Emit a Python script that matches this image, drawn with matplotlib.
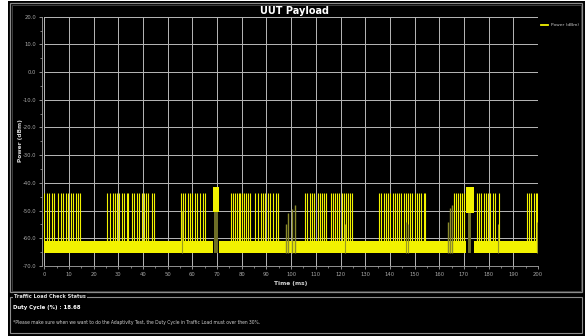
import matplotlib
matplotlib.use("Agg")
from matplotlib import pyplot as plt
from matplotlib.patches import Rectangle
from matplotlib.lines import Line2D

# burst spikes (ms) rising from the noise floor
spike_ms = [0.0, 1.0, 1.9, 3.0, 4.0,
            5.7, 6.6, 7.7, 8.7, 9.7, 10.7, 11.7, 12.8, 13.8, 14.4,
            25.5, 26.6, 27.7, 28.6, 29.6, 30.4, 31.3, 32.3, 33.4, 34.0,
            35.6, 36.4, 37.4, 38.5, 39.4, 40.4, 41.4, 42.1, 43.5, 44.5,
            55.3, 56.3, 57.1, 58.1, 59.0, 60.0, 61.0, 62.0, 63.1, 64.1, 64.9,
            75.5, 76.3, 77.1, 77.9, 78.7, 79.3, 80.1, 80.9, 81.7, 82.7, 83.5,
            85.5, 86.6, 87.7, 88.6, 89.5, 90.6, 91.6, 92.6, 93.7, 94.5,
            105.8, 106.6, 107.6, 108.5, 109.3, 110.9, 111.6, 112.5, 113.3, 114.0,
            116.0, 116.8, 117.7, 118.6, 119.4, 120.4, 121.3, 122.1, 123.1, 124.0, 124.8,
            135.6, 136.6, 137.5, 138.4, 139.3, 140.2, 141.1, 142.0, 143.0, 143.8, 144.7,
            145.6, 146.4, 147.4, 148.3, 149.1, 150.1, 151.0, 151.8, 152.8, 153.7, 154.4,
            165.9, 166.7, 167.6, 168.6, 169.4, 169.9,
            175.3, 176.1, 177.1, 178.0, 178.8, 179.8, 180.7, 181.8, 182.7, 184.2,
            195.5, 196.3, 197.3, 198.3, 199.1, 199.6]
burst_top_dbm = -43.8

# rising ramps before the two hot spots
ramp_ms = [97.9, 98.8, 100.2, 101.5, 163.6, 164.3, 165.0]
ramp_top = [-55.0, -51.0, -49.6, -47.8, -54.0, -49.0, -48.0]

# weaker partial spikes inside bursts
dim_ms = [55.8, 121.8, 146.4, 147.2, 183.8, 199.4]
dim_top = [-50.0, -55.0, -54.0, -55.0, -55.0, -54.0]

# hot spots: bright block on top of a dim column
block_start = [68.4, 171.0]
block_end = [70.6, 174.0]
block_top = [-41.5, -41.5]
block_bottom = [-50.6, -51.0]
column_start = [68.9, 171.6]
column_end = [70.3, 173.0]

# noise floor band
floor_start = [0.0, 70.8, 174.2]
floor_end = [68.4, 171.0, 200.0]
floor_low = -65.2
floor_high = -61.0

x_ticks = list(range(0, 201, 10))
y_ticks = [20, 10, 0, -10, -20, -30, -40, -50, -60, -70]

duty_cycle = 18.68

W, H = 588, 336
YELLOW = "#f2f200"
OLIVE = "#6e6e26"
GRID = "#b8b8b8"
TICK = "#a8a8a8"

fig = plt.figure(figsize=(W / 100, H / 100), dpi=100, facecolor="white")

# black panel and frames
fig.patches.append(Rectangle((8 / W, 0), 577 / W, 1 - 1 / H, transform=fig.transFigure,
                             facecolor="black", edgecolor="none", zorder=-10))
fig.patches.append(Rectangle((10 / W, 1 - 292 / H), 572 / W, 289 / H, transform=fig.transFigure,
                             facecolor="none", edgecolor="#8c8c8c", lw=0.9))
fig.patches.append(Rectangle((11.5 / W, 1 - 290.5 / H), 569 / W, 286 / H, transform=fig.transFigure,
                             facecolor="none", edgecolor="#4a4a4a", lw=0.6))
fig.patches.append(Rectangle((10 / W, 1 - 333 / H), 572 / W, 36 / H, transform=fig.transFigure,
                             facecolor="none", edgecolor="#8c8c8c", lw=0.8))

ax = fig.add_axes([44.3 / W, 1 - 266 / H, (538 - 44.3) / W, (266 - 16.7) / H])
ax.set_facecolor("black")

for s, e in zip(floor_start, floor_end):
    ax.fill_between([s, e], floor_low, floor_high, color=YELLOW, lw=0, zorder=3)

ax.vlines(spike_ms, floor_high, burst_top_dbm, color=YELLOW, lw=0.8, zorder=4)
ax.vlines(dim_ms, floor_low, dim_top, color="#9a9a20", lw=0.8, zorder=4)
ax.vlines(ramp_ms, floor_low, ramp_top, color="#8c8c2c", lw=1.0, zorder=5)

for s, e, t, b in zip(block_start, block_end, block_top, block_bottom):
    ax.fill_between([s, e], b, t, color=YELLOW, lw=0, zorder=5)
for s, e, b in zip(column_start, column_end, block_bottom):
    ax.fill_between([s, e], floor_low, b, color=OLIVE, lw=0, zorder=5)

ax.set_xlim(0, 200)
ax.set_ylim(-70, 20)
ax.set_xticks(x_ticks)
ax.set_xticklabels([str(v) for v in x_ticks])
ax.set_yticks(y_ticks)
ax.set_yticklabels(["%.1f" % v for v in y_ticks])
ax.set_xticks(range(5, 200, 10), minor=True)
ax.set_yticks(range(-65, 20, 10), minor=True)
ax.grid(True, which="major", color=GRID, lw=0.7, zorder=1)
ax.tick_params(which="both", colors=TICK, labelsize=3.8, pad=1.5)
ax.tick_params(which="major", length=2.5, width=0.6)
ax.tick_params(which="minor", length=1.5, width=0.5)
for side in ("top", "right"):
    ax.spines[side].set_visible(False)
for side in ("left", "bottom"):
    ax.spines[side].set_color(TICK)
    ax.spines[side].set_linewidth(0.6)
ax.spines["left"].set_position(("outward", 2))

ax.set_xlabel("Time (ms)", color="#d8d8d8", fontsize=4.2, fontweight="bold", labelpad=3)
fig.text(20 / W, 1 - 141 / H, "Power (dBm)", color="#d8d8d8", fontsize=4.2,
         fontweight="bold", rotation=90, ha="center", va="center")

fig.text(295 / W, 1 - 11 / H, "UUT Payload", color="white", fontsize=7,
         fontweight="bold", ha="center", va="center")

# legend
fig.lines.append(Line2D([541 / W, 548 / W], [1 - 25 / H, 1 - 25 / H], transform=fig.transFigure,
                        color=YELLOW, lw=1.3))
fig.text(551 / W, 1 - 25 / H, "Power (dBm)", color="#c8c8c8", fontsize=3.2, va="center")

# status box
fig.text(14 / W, 1 - 297 / H, "Traffic Load Check Status", color="#e0e0e0", fontsize=3.6,
         fontweight="bold", va="center",
         bbox=dict(facecolor="black", edgecolor="none", pad=1.0))
fig.text(13 / W, 1 - 307 / H, "Duty Cycle (%%) : %.2f" % duty_cycle, color="white",
         fontsize=3.9, fontweight="bold", va="center")
fig.text(13 / W, 1 - 322.5 / H,
         "*Please make sure when we want to do the Adaptivity Test, the Duty Cycle in Traffic Load must over then 30%.",
         color="#d0d0d0", fontsize=3.25, va="center")

fig.savefig("out.png", dpi=100, facecolor=fig.get_facecolor())
